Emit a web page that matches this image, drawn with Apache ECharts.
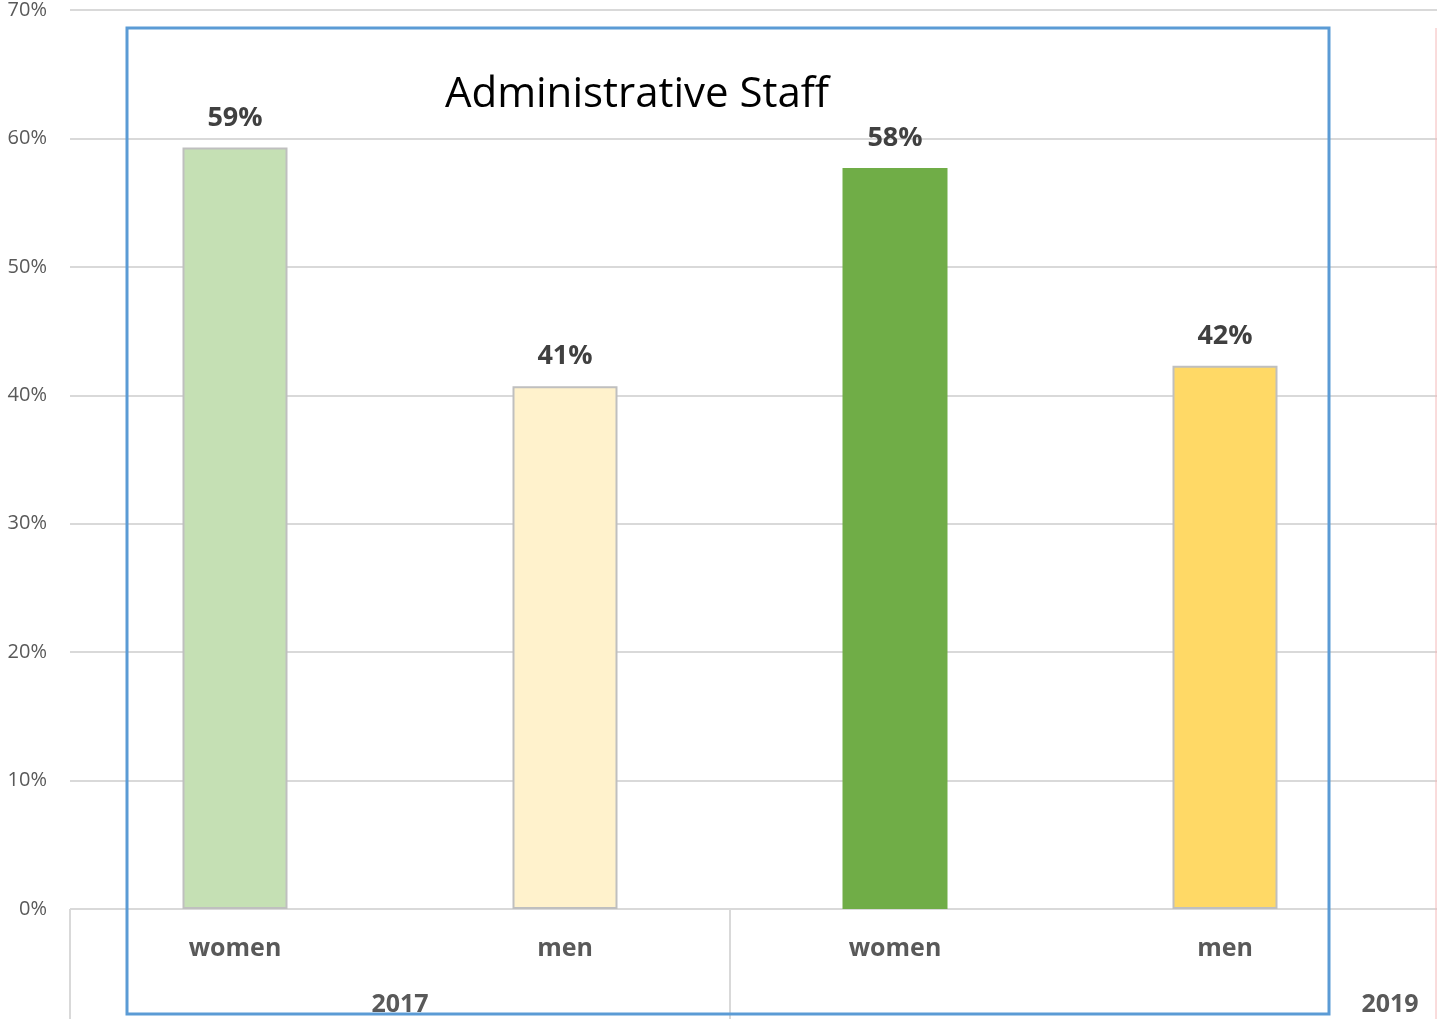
<!DOCTYPE html>
<html>
<head>
<meta charset="utf-8">
<script src="https://cdn.jsdelivr.net/npm/echarts@6/dist/echarts.min.js"></script>
<style>
  html, body { margin: 0; padding: 0; background: #fff; }
  #chart { width: 1437px; height: 1019px; }
</style>
</head>
<body>
<div id="chart"></div>
<script>
// data
const categories = ['women', 'men', 'women', 'men']
const values = [59.3, 40.7, 57.7, 42.3]
const years = ['2017', '2019']
const yTicks = [0, 10, 20, 30, 40, 50, 60, 70]

const barColors = ['#c5e0b4', '#fff2cc', '#70ad47', '#ffd966']
const barBorders = ['#bfbfbf', '#bfbfbf', null, '#bfbfbf']

// year labels sit on a 5-slot axis: group centre and right edge
const yearSlots = ['', years[0], '', '', years[1]]

const font = "'Open Sans', 'Noto Sans', sans-serif"
const yMin = yTicks[0]
const yMax = yTicks[yTicks.length - 1]
const chart = echarts.init(document.getElementById('chart'))

chart.setOption({
  animation: false,
  title: {
    text: 'Administrative Staff',
    left: 632, top: 69, textAlign: 'center',
    textStyle: { fontFamily: font, fontSize: 42, fontWeight: 'normal', color: '#000' },
  },
  grid: [
    { left: 70, right: 0, top: 10, bottom: 110, outerBoundsMode: 'none' },
    { left: 70, width: 1320, top: 10, bottom: 110, outerBoundsMode: 'none' },
  ],
  xAxis: [
    { gridIndex: 0, type: 'value', show: false },
    {
      gridIndex: 1, type: 'category', data: categories, position: 'bottom',
      axisLine: { show: false }, axisTick: { show: false },
      axisLabel: { margin: 27, fontFamily: font, fontSize: 25, fontWeight: 'bold', color: '#595959' },
    },
    {
      gridIndex: 1, type: 'category', data: yearSlots, boundaryGap: false, position: 'bottom',
      axisLine: { show: false },
      axisTick: {
        show: true, length: 112, interval: (i) => i === 0 || i === 2,
        lineStyle: { color: '#d9d9d9', width: 2 },
      },
      axisLabel: { interval: 0, margin: 83, fontFamily: font, fontSize: 25, fontWeight: 'bold', color: '#595959' },
    },
  ],
  yAxis: [
    {
      gridIndex: 0, type: 'value', min: yMin, max: yMax, interval: 10,
      axisLine: { show: false }, axisTick: { show: false },
      axisLabel: { margin: 23, formatter: '{value}%', fontFamily: font, fontSize: 20, color: '#595959' },
      splitLine: { lineStyle: { color: '#d9d9d9', width: 2 } },
    },
    { gridIndex: 1, type: 'value', min: yMin, max: yMax, interval: 10, show: false },
  ],
  series: [{
    type: 'bar', xAxisIndex: 1, yAxisIndex: 1, barWidth: 105,
    data: values.map((v, i) => ({
      value: v,
      itemStyle: {
        color: barColors[i],
        borderColor: barBorders[i] || barColors[i],
        borderWidth: barBorders[i] ? 2 : 0,
      },
    })),
    label: {
      show: true, position: 'top', distance: 16,
      formatter: (p) => Math.round(p.value) + '%',
      fontFamily: font, fontSize: 27, fontWeight: 'bold', color: '#404040',
    },
  }],
  graphic: [
    {
      type: 'rect', silent: true, z: 10,
      shape: { x: 127, y: 28, width: 1202, height: 986 },
      style: { fill: 'none', stroke: '#5b9bd5', lineWidth: 3 },
    },
    {
      type: 'line', silent: true, z: 10,
      shape: { x1: 1436, y1: 28, x2: 1436, y2: 1019 },
      style: { stroke: '#f4b8b8', lineWidth: 1 },
    },
  ],
})
</script>
</body>
</html>
